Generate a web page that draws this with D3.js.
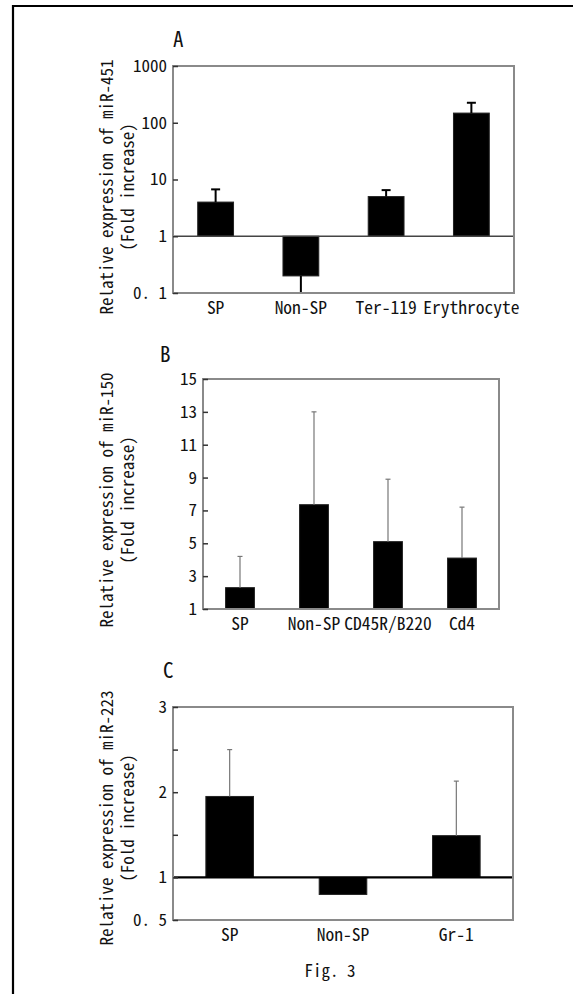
<!DOCTYPE html>
<html>
<head>
<meta charset="utf-8">
<script src="https://cdn.jsdelivr.net/npm/d3@7"></script>
<style>
  body { margin: 0; background: #fff; }
  svg text { font-family: 'Noto Sans Mono CJK JP', 'Noto Sans CJK JP', 'DejaVu Sans Mono', monospace; fill: #111; }
</style>
</head>
<body>
<svg id="fig"></svg>
<script>
// Panel A: miR-451 (log scale)
const catsA = ['SP', 'Non-SP', 'Ter-119', 'Erythrocyte'];
const valsA = [4.0, 0.2, 5.0, 148];
const errA = [6.7, 0.1, 6.5, 225];
const ticksA = [0.1, 1, 10, 100, 1000];
const tickLabelsA = ['0. 1', '1', '10', '100', '1000'];

// Panel B: miR-150
const catsB = ['SP', 'Non-SP', 'CD45R/B220', 'Cd4'];
const valsB = [2.3, 7.35, 5.1, 4.1];
const errB = [4.2, 13.0, 8.9, 7.2];
const ticksB = [1, 3, 5, 7, 9, 11, 13, 15];
const tickLabelsB = ['1', '3', '5', '7', '9', '11', '13', '15'];

// Panel C: miR-223
const catsC = ['SP', 'Non-SP', 'Gr-1'];
const valsC = [1.95, 0.8, 1.49];
const errC = [2.5, null, 2.13];
const ticksC = [0.5, 1, 1.5, 2, 2.5, 3];
const tickLabelsC = ['0. 5', '1', '', '2', '', '3'];

const width = 573, height = 994;

const svg = d3.select('#fig')
    .attr('width', width)
    .attr('height', height);

svg.append('rect')
    .attr('width', width)
    .attr('height', height)
    .attr('fill', '#fff');

// page frame (left and top edges only)
svg.append('path')
    .attr('d', `M13,${height} V6 H${width}`)
    .attr('fill', 'none')
    .attr('stroke', '#000')
    .attr('stroke-width', 2.2);

function drawPanel(p) {
    const g = svg.append('g');

    const x = d3.scaleBand()
        .domain(p.cats)
        .range([p.left, p.right])
        .paddingInner(p.pad)
        .paddingOuter(p.pad / 2);

    const y = p.yScale.range([p.bottom, p.top]);
    const y0 = y(p.base);

    // bars
    g.selectAll('.bar')
        .data(p.cats)
        .join('rect')
        .attr('class', 'bar')
        .attr('x', d => x(d))
        .attr('width', x.bandwidth())
        .attr('y', (d, i) => Math.min(y(p.vals[i]), y0))
        .attr('height', (d, i) => Math.abs(y(p.vals[i]) - y0))
        .attr('fill', '#000')
        .attr('stroke', '#222')
        .attr('stroke-width', 1);

    // error bars
    const eb = g.selectAll('.err')
        .data(p.cats.map((c, i) => ({ c, v: p.vals[i], e: p.errs[i] })).filter(d => d.e != null))
        .join('g')
        .attr('class', 'err')
        .attr('stroke', p.errColor)
        .attr('stroke-width', p.errWidth);
    eb.append('line')
        .attr('x1', d => x(d.c) + x.bandwidth() / 2)
        .attr('x2', d => x(d.c) + x.bandwidth() / 2)
        .attr('y1', d => y(d.v))
        .attr('y2', d => y(d.e));
    eb.append('line')
        .attr('x1', d => x(d.c) + x.bandwidth() / 2 - p.cap / 2)
        .attr('x2', d => x(d.c) + x.bandwidth() / 2 + p.cap / 2)
        .attr('y1', d => y(d.e))
        .attr('y2', d => y(d.e));

    // baseline at 1
    if (p.baseLine) {
        g.append('line')
            .attr('x1', p.left)
            .attr('x2', p.right)
            .attr('y1', y0)
            .attr('y2', y0)
            .attr('stroke', p.baseColor)
            .attr('stroke-width', p.baseWidth);
    }

    // plot frame
    g.append('rect')
        .attr('x', p.left)
        .attr('y', p.top)
        .attr('width', p.right - p.left)
        .attr('height', p.bottom - p.top)
        .attr('fill', 'none')
        .attr('stroke', '#8a8a8a')
        .attr('stroke-width', 2);

    // y axis, inward ticks
    const yAxis = d3.axisLeft(y)
        .tickValues(p.ticks)
        .tickFormat(d => p.tickLabels[p.ticks.indexOf(d)])
        .tickSizeInner(-5)
        .tickSizeOuter(0)
        .tickPadding(6);
    const yg = g.append('g')
        .attr('transform', `translate(${p.left},0)`)
        .call(yAxis);
    yg.select('.domain').remove();
    yg.selectAll('.tick line').attr('stroke', '#333').attr('stroke-width', 1.5);
    yg.selectAll('.tick text')
        .attr('font-size', 17)
        .attr('font-family', null)
        .attr('fill', '#111');

    // category labels
    const xAxis = d3.axisBottom(x).tickSize(0).tickPadding(9);
    const xg = g.append('g')
        .attr('transform', `translate(0,${p.bottom})`)
        .call(xAxis);
    xg.select('.domain').remove();
    xg.selectAll('.tick text')
        .attr('font-size', 17.5)
        .attr('font-family', null)
        .attr('fill', '#111');

    // panel letter
    g.append('text')
        .attr('x', p.letterX)
        .attr('y', p.letterY)
        .attr('font-size', 21)
        .text(p.letter);

    // y axis title
    const cy = p.titleY;
    g.append('text')
        .attr('transform', `translate(113,${cy}) rotate(-90)`)
        .attr('text-anchor', 'middle')
        .attr('font-size', 17)
        .text(p.title);
    g.append('text')
        .attr('transform', `translate(134,${cy}) rotate(-90)`)
        .attr('text-anchor', 'middle')
        .attr('font-size', 17)
        .text('(Fold increase)');
}

drawPanel({
    cats: catsA, vals: valsA, errs: errA, ticks: ticksA, tickLabels: tickLabelsA,
    yScale: d3.scaleLog().domain([0.1, 1000]), base: 1,
    left: 173, right: 514, top: 66, bottom: 293, pad: 0.58,
    errColor: '#000', errWidth: 2, cap: 9,
    baseLine: true, baseColor: '#444', baseWidth: 1.5,
    letter: 'A', letterX: 173, letterY: 47,
    title: 'Relative expression of miR-451', titleY: 187
});

drawPanel({
    cats: catsB, vals: valsB, errs: errB, ticks: ticksB, tickLabels: tickLabelsB,
    yScale: d3.scaleLinear().domain([1, 15]), base: 1,
    left: 203, right: 499, top: 379, bottom: 609, pad: 0.61,
    errColor: '#777', errWidth: 1.2, cap: 5,
    baseLine: false,
    letter: 'B', letterX: 160, letterY: 362,
    title: 'Relative expression of miR-150', titleY: 500
});

drawPanel({
    cats: catsC, vals: valsC, errs: errC, ticks: ticksC, tickLabels: tickLabelsC,
    yScale: d3.scaleLinear().domain([0.5, 3]), base: 1,
    left: 173, right: 513, top: 707, bottom: 920, pad: 0.58,
    errColor: '#777', errWidth: 1.2, cap: 5,
    baseLine: true, baseColor: '#000', baseWidth: 2.2,
    letter: 'C', letterX: 163, letterY: 678,
    title: 'Relative expression of miR-223', titleY: 818
});

svg.append('text')
    .attr('x', 330)
    .attr('y', 977)
    .attr('text-anchor', 'middle')
    .attr('font-size', 17)
    .text('Fig. 3');
</script>
</body>
</html>
